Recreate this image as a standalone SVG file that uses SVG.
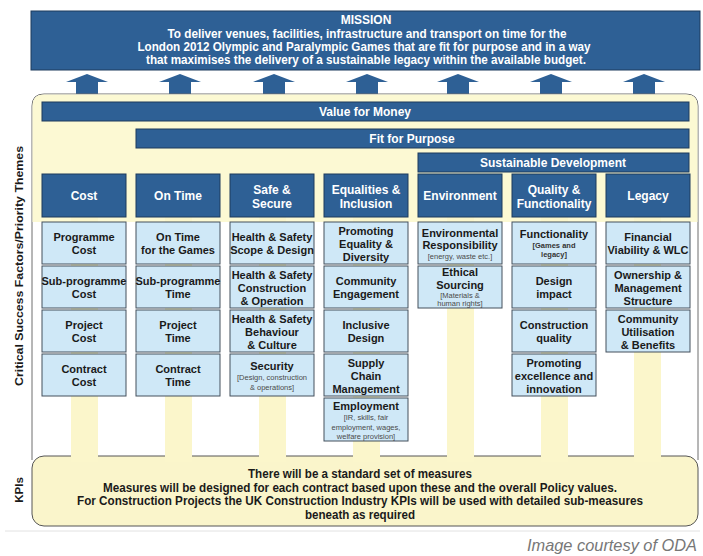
<svg xmlns="http://www.w3.org/2000/svg" width="703" height="556" viewBox="0 0 703 556">
<defs>
<style>
.blue{fill:#2E6095;stroke:#1C3A5C;stroke-width:1}
.sub{fill:#CFE8F7;stroke:#44505C;stroke-width:1}
.stripe{fill:#FBF6CB}
.t{font-family:"Liberation Sans",Arial,sans-serif;font-weight:bold;text-anchor:middle}
.ht{font-size:12px;fill:#FFFFFF}
.st{font-size:11px;fill:#1A1A1A}
.sm{font-size:7.5px;fill:#4A4A4A;font-weight:normal}
.smb{font-size:7.5px;fill:#333333}
.kt{font-size:12px;fill:#1A1A1A}
.side{font-size:11.5px;fill:#1A1A1A}
.arrow{fill:#2E6095}
</style>
</defs>
<rect width="703" height="556" fill="#FFFFFF"/>

<g id="mission">
<rect class="blue" x="31" y="11" width="669" height="59"/>
<text class="t ht" x="366" y="24" font-size="11.5">MISSION</text>
<text class="t ht" x="367" y="38" textLength="399" lengthAdjust="spacingAndGlyphs">To deliver venues, facilities, infrastructure and transport on time for the</text>
<text class="t ht" x="364" y="51" textLength="453" lengthAdjust="spacingAndGlyphs">London 2012 Olympic and Paralympic Games that are fit for purpose and in a way</text>
<text class="t ht" x="366" y="64" textLength="440" lengthAdjust="spacingAndGlyphs">that maximises the delivery of a sustainable legacy within the available budget.</text>
</g>

<g id="connectors">
<polygon class="arrow" points="87,74 108,82 98,82 98,96 76,96 76,82 66,82"/>
<polygon class="arrow" points="180,74 201,82 191,82 191,96 169,96 169,82 159,82"/>
<polygon class="arrow" points="274,74 295,82 285,82 285,96 263,96 263,82 253,82"/>
<polygon class="arrow" points="367,74 388,82 378,82 378,96 356,96 356,82 346,82"/>
<polygon class="arrow" points="458,74 479,82 469,82 469,96 447,96 447,82 437,82"/>
<polygon class="arrow" points="551,74 572,82 562,82 562,96 540,96 540,82 530,82"/>
<polygon class="arrow" points="644,74 665,82 655,82 655,96 633,96 633,82 623,82"/>
</g>

<g id="panel">
<path d="M32,460 L32,106 Q32,94 44,94 L686,94 Q698,94 698,106 L698,460" fill="#FFFFFF" stroke="#6E6E6E" stroke-width="1"/>
<path d="M32.5,222 L32.5,106 Q32.5,94.5 44,94.5 L686,94.5 Q697.5,94.5 697.5,106 L697.5,222 Z" fill="#FCF9D3"/>
</g>

<g id="kpis">
<rect x="32" y="456" width="666" height="70" rx="12" ry="12" fill="#FAF5CB" stroke="#555555" stroke-width="1"/>
</g>

<g id="stripes">
<rect class="stripe" x="71" y="217" width="27" height="245"/>
<rect class="stripe" x="165" y="217" width="27" height="245"/>
<rect class="stripe" x="259" y="217" width="27" height="245"/>
<rect class="stripe" x="353" y="217" width="27" height="245"/>
<rect class="stripe" x="447" y="217" width="27" height="245"/>
<rect class="stripe" x="541" y="217" width="27" height="245"/>
<rect class="stripe" x="634" y="217" width="27" height="245"/>
</g>

<g id="kpi-text">
<text class="t kt" x="360" y="478" textLength="224" lengthAdjust="spacingAndGlyphs">There will be a standard set of measures</text>
<text class="t kt" x="360" y="492" textLength="514" lengthAdjust="spacingAndGlyphs">Measures will be designed for each contract based upon these and the overall Policy values.</text>
<text class="t kt" x="360" y="505" textLength="566" lengthAdjust="spacingAndGlyphs">For Construction Projects the UK Construction Industry KPIs will be used with detailed sub-measures</text>
<text class="t kt" x="360" y="519" textLength="110" lengthAdjust="spacingAndGlyphs">beneath as required</text>
</g>

<g id="value-for-money">
<rect class="blue" x="42" y="102" width="647" height="19"/>
<text class="t ht" x="365" y="116">Value for Money</text>
</g>
<g id="fit-for-purpose">
<rect class="blue" x="136" y="129" width="553" height="19"/>
<text class="t ht" x="412" y="143">Fit for Purpose</text>
</g>
<g id="sustainable-development">
<rect class="blue" x="418" y="153" width="271" height="19"/>
<text class="t ht" x="553" y="167">Sustainable Development</text>
</g>

<g id="col-cost">
<rect class="blue" x="42" y="174" width="84" height="43"/>
<text class="t ht" x="84" y="200">Cost</text>
<rect class="sub" x="42" y="222" width="84" height="42"/>
<text class="t st" x="84" y="241">Programme</text><text class="t st" x="84" y="254">Cost</text>
<rect class="sub" x="42" y="266" width="84" height="42"/>
<text class="t st" x="84" y="285">Sub-programme</text><text class="t st" x="84" y="298">Cost</text>
<rect class="sub" x="42" y="310" width="84" height="42"/>
<text class="t st" x="84" y="329">Project</text><text class="t st" x="84" y="342">Cost</text>
<rect class="sub" x="42" y="354" width="84" height="42"/>
<text class="t st" x="84" y="373">Contract</text><text class="t st" x="84" y="386">Cost</text>
</g>

<g id="col-on-time">
<rect class="blue" x="136" y="174" width="84" height="43"/>
<text class="t ht" x="178" y="200">On Time</text>
<rect class="sub" x="136" y="222" width="84" height="42"/>
<text class="t st" x="178" y="241">On Time</text><text class="t st" x="178" y="254">for the Games</text>
<rect class="sub" x="136" y="266" width="84" height="42"/>
<text class="t st" x="178" y="285">Sub-programme</text><text class="t st" x="178" y="298">Time</text>
<rect class="sub" x="136" y="310" width="84" height="42"/>
<text class="t st" x="178" y="329">Project</text><text class="t st" x="178" y="342">Time</text>
<rect class="sub" x="136" y="354" width="84" height="42"/>
<text class="t st" x="178" y="373">Contract</text><text class="t st" x="178" y="386">Time</text>
</g>

<g id="col-safe-secure">
<rect class="blue" x="230" y="174" width="84" height="43"/>
<text class="t ht" x="272" y="194">Safe &amp;</text><text class="t ht" x="272" y="208">Secure</text>
<rect class="sub" x="230" y="222" width="84" height="42"/>
<text class="t st" x="272" y="241">Health &amp; Safety</text><text class="t st" x="272" y="254">Scope &amp; Design</text>
<rect class="sub" x="230" y="266" width="84" height="42"/>
<text class="t st" x="272" y="278.5">Health &amp; Safety</text><text class="t st" x="272" y="291.5">Construction</text><text class="t st" x="272" y="304.5">&amp; Operation</text>
<rect class="sub" x="230" y="310" width="84" height="42"/>
<text class="t st" x="272" y="322.5">Health &amp; Safety</text><text class="t st" x="272" y="335.5">Behaviour</text><text class="t st" x="272" y="348.5">&amp; Culture</text>
<rect class="sub" x="230" y="354" width="84" height="42"/>
<text class="t st" x="272" y="370">Security</text>
<text class="t sm" x="272" y="380">[Design, construction</text><text class="t sm" x="272" y="389.5">&amp; operations]</text>
</g>

<g id="col-equalities">
<rect class="blue" x="324" y="174" width="84" height="43"/>
<text class="t ht" x="366" y="194">Equalities &amp;</text><text class="t ht" x="366" y="208">Inclusion</text>
<rect class="sub" x="324" y="222" width="84" height="42"/>
<text class="t st" x="366" y="234.5">Promoting</text><text class="t st" x="366" y="247.5">Equality &amp;</text><text class="t st" x="366" y="260.5">Diversity</text>
<rect class="sub" x="324" y="266" width="84" height="42"/>
<text class="t st" x="366" y="285">Community</text><text class="t st" x="366" y="298">Engagement</text>
<rect class="sub" x="324" y="310" width="84" height="42"/>
<text class="t st" x="366" y="329">Inclusive</text><text class="t st" x="366" y="342">Design</text>
<rect class="sub" x="324" y="354" width="84" height="42"/>
<text class="t st" x="366" y="366.5">Supply</text><text class="t st" x="366" y="379.5">Chain</text><text class="t st" x="366" y="392.5">Management</text>
<rect class="sub" x="324" y="398" width="84" height="43"/>
<text class="t st" x="366" y="410">Employment</text>
<text class="t sm" x="366" y="420">[IR, skills, fair</text><text class="t sm" x="366" y="429.5">employment, wages,</text><text class="t sm" x="366" y="439">welfare provision]</text>
</g>

<g id="col-environment">
<rect class="blue" x="418" y="174" width="84" height="43"/>
<text class="t ht" x="460" y="200">Environment</text>
<rect class="sub" x="418" y="222" width="84" height="42"/>
<text class="t st" x="460" y="237">Environmental</text><text class="t st" x="460" y="249">Responsibility</text>
<text class="t sm" x="460" y="258.5">[energy, waste etc.]</text>
<rect class="sub" x="418" y="266" width="84" height="42"/>
<text class="t st" x="460" y="276">Ethical</text><text class="t st" x="460" y="289">Sourcing</text>
<text class="t sm" x="460" y="298">[Materials &amp;</text><text class="t sm" x="460" y="306">human rights]</text>
</g>

<g id="col-quality">
<rect class="blue" x="512" y="174" width="84" height="43"/>
<text class="t ht" x="554" y="194">Quality &amp;</text><text class="t ht" x="554" y="208">Functionality</text>
<rect class="sub" x="512" y="222" width="84" height="42"/>
<text class="t st" x="554" y="238">Functionality</text>
<text class="t smb" x="554" y="248">[Games and</text><text class="t smb" x="554" y="256.5">legacy]</text>
<rect class="sub" x="512" y="266" width="84" height="42"/>
<text class="t st" x="554" y="285">Design</text><text class="t st" x="554" y="298">impact</text>
<rect class="sub" x="512" y="310" width="84" height="42"/>
<text class="t st" x="554" y="329">Construction</text><text class="t st" x="554" y="342">quality</text>
<rect class="sub" x="512" y="354" width="84" height="42"/>
<text class="t st" x="554" y="366.5">Promoting</text><text class="t st" x="554" y="379.5">excellence and</text><text class="t st" x="554" y="392.5">innovation</text>
</g>

<g id="col-legacy">
<rect class="blue" x="606" y="174" width="84" height="43"/>
<text class="t ht" x="648" y="200">Legacy</text>
<rect class="sub" x="606" y="222" width="84" height="42"/>
<text class="t st" x="648" y="241">Financial</text><text class="t st" x="648" y="254">Viability &amp; WLC</text>
<rect class="sub" x="606" y="266" width="84" height="42"/>
<text class="t st" x="648" y="278.5">Ownership &amp;</text><text class="t st" x="648" y="291.5">Management</text><text class="t st" x="648" y="304.5">Structure</text>
<rect class="sub" x="606" y="310" width="84" height="42"/>
<text class="t st" x="648" y="322.5">Community</text><text class="t st" x="648" y="335.5">Utilisation</text><text class="t st" x="648" y="348.5">&amp; Benefits</text>
</g>

<g id="side-labels">
<text class="t side" transform="translate(23,266) rotate(-90)" textLength="240" lengthAdjust="spacingAndGlyphs">Critical Success Factors/Priority Themes</text>
<text class="t side" transform="translate(23,490) rotate(-90)">KPIs</text>
</g>

<line x1="5" y1="531" x2="700" y2="531" stroke="#E2E2E2" stroke-width="1"/>
<text x="697" y="551" font-family="'Liberation Sans',Arial,sans-serif" font-style="italic" font-size="17" fill="#777777" text-anchor="end" textLength="170" lengthAdjust="spacingAndGlyphs">Image courtesy of ODA</text>
</svg>
